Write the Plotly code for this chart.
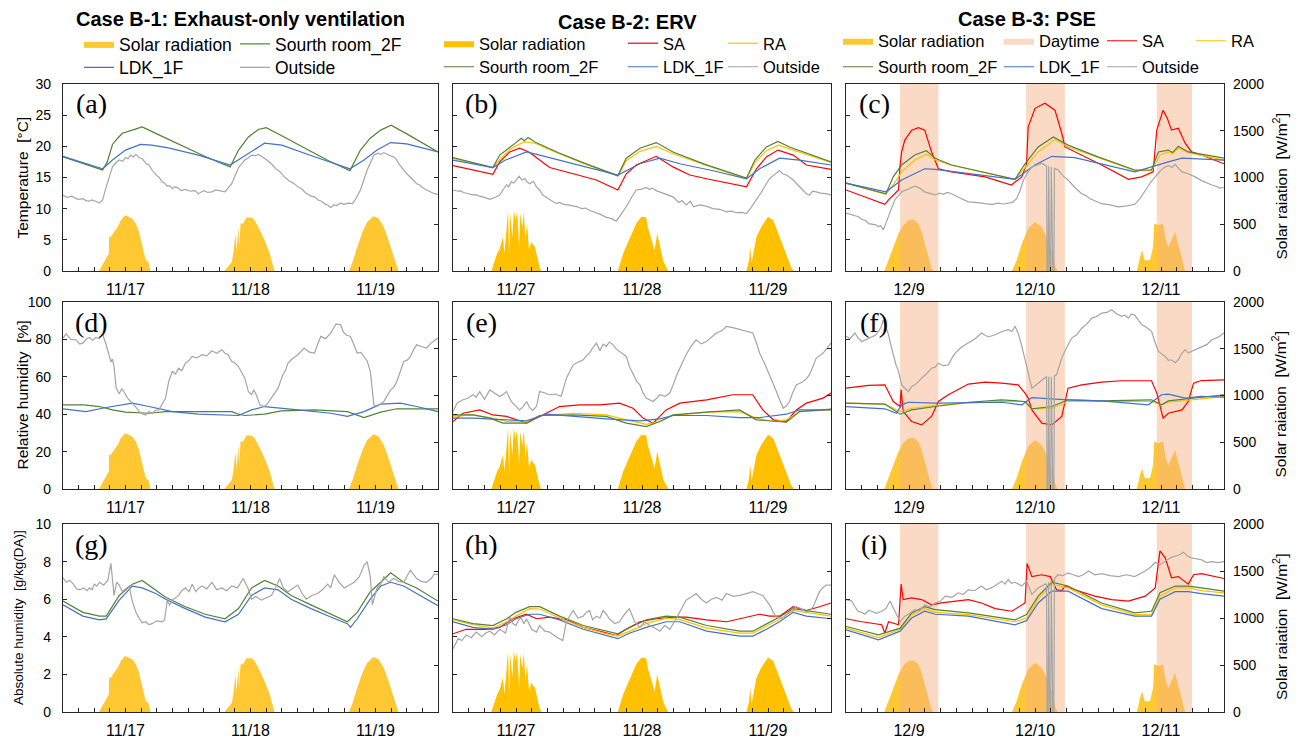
import plotly.graph_objects as go

# ======================= DATA =======================
# time axis: hours from 0:00 of the first day shown in each case
DATES_B1 = ['11/17', '11/18', '11/19']
DATES_B2 = ['11/27', '11/28', '11/29']
DATES_B3 = ['12/9', '12/10', '12/11']
DATE_NOON_HOURS = [12, 36, 60]

# solar radiation [W/m2] (time h, value)
SOLAR_B1 = [(6.9, 0), (7.2, 30), (7.6, 70), (8.3, 150), (8.8, 186), (8.85, 365), (9.2, 365), (9.8, 418),
            (10.5, 471), (11.1, 543), (11.9, 597), (12.7, 578), (13.3, 560), (14.0, 507), (14.6, 418),
            (15.2, 275), (15.6, 186), (15.9, 114), (16.4, 96), (16.6, 43), (16.8, 0),
            (31.0, 0), (31.7, 43), (32.4, 96), (32.7, 186), (33.1, 400), (33.3, 221), (33.7, 471),
            (33.8, 257), (34.1, 507), (34.6, 507), (35.2, 571), (36.2, 571), (36.8, 543), (37.8, 436),
            (38.7, 329), (39.7, 186), (40.3, 61), (40.6, 0),
            (54.9, 0), (55.6, 96), (56.5, 257), (57.5, 418), (58.4, 525), (59.6, 586), (60.6, 561),
            (61.6, 471), (62.5, 329), (63.5, 150), (64.0, 61), (64.4, 0)]
SOLAR_B2 = [(7.3, 0), (7.9, 96), (8.4, 186), (8.9, 239), (9.5, 364), (9.8, 186), (10.2, 471), (10.5, 650),
            (10.7, 150), (10.9, 614), (11.3, 364), (11.6, 650), (11.9, 543), (12.2, 632), (12.6, 257),
            (12.8, 614), (13.2, 471), (13.5, 632), (13.8, 329), (14.1, 507), (14.5, 221), (14.9, 311),
            (15.6, 257), (16.0, 150), (16.5, 43), (16.8, 0),
            (31.4, 0), (32.4, 186), (33.7, 364), (34.9, 507), (35.9, 579), (36.8, 571), (37.1, 471),
            (38.0, 293), (38.4, 221), (38.9, 400), (39.4, 257), (40.1, 96), (41.0, 0),
            (55.9, 0), (56.4, 114), (56.6, 257), (56.9, 96), (57.8, 364), (58.7, 471), (60.0, 579),
            (61.0, 543), (62.2, 364), (63.5, 186), (64.4, 43), (64.9, 0)]
SOLAR_B3 = [(7.3, 0), (8.1, 114), (9.0, 257), (10.0, 400), (10.9, 489), (11.9, 543), (12.8, 550),
            (13.8, 507), (14.5, 400), (15.2, 257), (15.8, 114), (16.3, 25), (16.6, 0),
            (31.6, 0), (32.5, 114), (33.5, 293), (34.7, 454), (36.0, 525), (37.3, 471), (38.5, 329),
            (39.2, 221), (39.8, 61), (40.3, 0),
            (55.4, 0), (56.0, 150), (56.4, 221), (56.9, 114), (57.9, 114), (58.5, 257), (58.7, 507),
            (59.5, 489), (60.4, 507), (60.9, 329), (61.4, 257), (62.0, 329), (62.7, 418), (63.2, 293),
            (63.6, 221), (64.3, 61), (64.6, 0)]
DAYTIME_B3 = [(10.3, 17.6), (34.3, 41.7), (59.2, 65.9)]

# ---- Case B-1 ----
B1_T_SOUTH = [(0, 18.3), (7.6, 16.2), (8.5, 17.5), (9.5, 20.3), (10.5, 21.3), (11.4, 22.1), (13.3, 22.6),
              (15.2, 23.1), (18, 22.0), (21, 20.8), (24, 19.6), (27, 18.5), (30, 17.4), (32.1, 16.7),
              (33.7, 19.4), (35.6, 21.5), (37.5, 22.7), (39, 23.0), (42, 21.7), (45, 20.3), (48, 19.0),
              (51, 17.7), (55.1, 16.1), (57.1, 19.4), (59, 21.3), (61, 22.6), (63, 23.4), (66, 22.0),
              (69, 20.5), (72, 19.1)]
B1_T_LDK = [(0, 18.4), (7.6, 16.4), (9.5, 17.8), (12, 19.4), (14.9, 20.3), (17, 20.2), (20, 19.8), (26, 18.6),
            (32.1, 17.0), (35, 18.6), (38.7, 20.5), (42, 20.2), (48, 18.4), (55.1, 16.4), (57.8, 17.8),
            (60.3, 19.4), (62.9, 20.6), (66, 20.4), (72, 19.1)]
B1_T_OUT = [(0, 12.2), (0.5, 11.9), (1, 11.8), (1.5, 12.0), (2, 11.9), (2.5, 11.6), (3, 11.5), (3.8, 11.6),
            (4.4, 11.3), (5, 11.2), (5.5, 11.4), (6, 11.3), (6.5, 11.1), (7, 10.9), (7.6, 11.4),
            (8.3, 13.5), (9.5, 16.7), (10.2, 17.4), (10.8, 17.8), (11.4, 17.6), (12, 18.2), (12.5, 18.0),
            (13, 18.6), (13.5, 18.3), (14, 18.7), (14.6, 18.2), (15.2, 18.0), (16, 17.2), (16.5, 17.0),
            (17.1, 16.2), (18, 15.3), (18.5, 15.0), (19, 14.3), (19.5, 14.1), (20, 13.6), (20.5, 13.7),
            (21, 13.2), (21.5, 13.5), (22, 13.4), (22.7, 12.9), (23.5, 13.1), (24.5, 12.8), (25.3, 12.9),
            (26, 12.4), (27, 12.9), (27.8, 12.6), (28.6, 12.7), (29.3, 13.0), (30, 12.9), (31.1, 12.7),
            (32.4, 14.0), (33.7, 16.6), (34.3, 17.2), (34.9, 17.8), (35.5, 18.1), (36.2, 18.6), (37, 18.5),
            (37.5, 18.7), (38.1, 18.4), (39, 17.9), (40, 17.2), (41, 16.3), (41.7, 15.9), (42.5, 15.1),
            (43.5, 14.4), (44.2, 14.1), (45.1, 13.5), (45.8, 13.2), (46.5, 12.6), (47.6, 12.0), (48.3, 11.9),
            (49, 11.4), (49.6, 11.2), (50.2, 10.8), (50.8, 10.6), (51.4, 10.2), (52, 10.6), (52.5, 10.5),
            (53.3, 10.9), (54, 10.7), (54.8, 10.9), (55.6, 10.8), (56.3, 11.7), (57.1, 13.0), (58.4, 16.2),
            (59.1, 17.6), (59.7, 18.6), (60.5, 18.9), (61, 18.7), (61.6, 19.0), (62.5, 18.6), (63.5, 18.3),
            (64, 17.9), (64.5, 17.2), (65.2, 16.4), (66, 15.6), (67, 14.8), (67.9, 14.0), (68.5, 13.8),
            (69, 13.4), (69.8, 13.0), (70.6, 12.7), (71.3, 12.4), (72, 12.3)]
B1_RH_SOUTH = [(0, 45), (4, 45), (7, 44.1), (9.5, 42.3), (12, 41.1), (16.5, 40.5), (19.7, 41.4), (23.5, 41.4),
               (32.4, 41.4), (33.7, 40), (34.9, 39.3), (38.7, 40), (41.9, 41.8), (48.3, 42.3), (54.6, 41.4),
               (57.8, 38.2), (61, 41.1), (64.1, 42.9), (72, 42.9)]
B1_RH_LDK = [(0, 42.9), (4.4, 41.4), (8.3, 43.6), (13.3, 45.9), (16.5, 44.1), (21, 41.4), (26, 40), (33.7, 39.3),
             (36.2, 42.3), (38.7, 44.1), (45.1, 42.3), (51.4, 40.5), (54.6, 38.8), (57.8, 41.4), (61, 45.4),
             (64.8, 45.9), (67.9, 44.1), (72, 41.4)]
B1_RH_OUT = [(0, 80.7), (0.6, 82.9), (1.5, 80), (2.5, 79.8), (3.2, 77.5), (3.8, 78), (4.5, 80.2), (5.1, 81),
             (5.7, 79.5), (6.3, 81), (7, 80.4), (7.6, 82.9), (8.3, 77), (9.2, 68), (9.5, 69.5), (9.8, 65.5),
             (10.2, 54), (10.8, 51), (11.3, 53.5), (11.7, 52), (12.4, 48.6), (13.3, 46), (14, 43.8),
             (14.6, 41.4), (15.2, 40.2), (15.9, 39.6), (16.5, 41.5), (17.1, 40.5), (17.8, 42.2), (18.4, 42.3),
             (19.1, 45.5), (19.7, 48.6), (20.3, 57.5), (21, 62.9), (21.6, 61.5), (22.2, 64.6), (22.8, 63.2),
             (23.5, 67.3), (24.2, 68.8), (24.8, 70.9), (25.7, 70.1), (26.7, 71.8), (27.6, 71.2), (28.6, 73.9),
             (29.5, 72.6), (30.5, 74.5), (31.1, 72.6), (31.7, 71.8), (32.4, 68.2), (33.1, 67.2), (33.7, 65.5),
             (34.3, 62.4), (34.9, 59.3), (35.6, 52.1), (36.2, 50.4), (36.6, 53), (37.1, 50.4), (37.8, 45),
             (38.7, 44.1), (39.4, 46.2), (40, 48.6), (40.7, 51), (41.3, 53.9), (42.2, 61.1), (42.7, 63.2),
             (43.2, 67.3), (44.1, 69.8), (45.1, 71.8), (45.7, 73.6), (46.3, 75.4), (47.3, 73.2), (48.3, 72.7),
             (48.9, 77.5), (49.5, 81.6), (50.4, 80.4), (51.4, 83.4), (52.4, 88.2), (53.3, 87.9), (53.8, 84.1),
             (54.3, 82.5), (55.2, 81.6), (55.9, 77), (56.5, 72.7), (57.2, 73.1), (57.8, 70.9), (58.4, 68.5),
             (59, 62.9), (59.7, 45), (60.3, 44.1), (61, 45.5), (61.6, 46.8), (62.3, 50.2), (62.9, 53),
             (63.5, 54.5), (64.1, 57.5), (64.8, 63.1), (65.4, 68.2), (66.1, 68.9), (66.7, 70.9), (67.3, 74.4),
             (67.9, 77.1), (68.8, 76.2), (69.8, 75.4), (70.6, 77.9), (72, 80.7)]
B1_AH_SOUTH = [(0, 5.9), (3.8, 5.3), (7, 5.1), (8.3, 5.1), (10.8, 6.2), (13.3, 6.8), (15.2, 7.0), (17.8, 6.5),
               (19.7, 6.1), (23.5, 5.6), (27.3, 5.2), (31.1, 4.96), (33.7, 5.5), (36.2, 6.6), (38.7, 7.0),
               (41.3, 6.7), (43.8, 6.2), (47.6, 5.7), (51.4, 5.2), (54.6, 4.8), (56.5, 5.3), (59, 6.4),
               (61, 6.9), (62.9, 7.4), (65.4, 6.9), (67.9, 6.6), (72, 5.9)]
B1_AH_LDK = [(0, 5.7), (3.8, 5.1), (7, 4.9), (8.3, 4.95), (10.8, 5.95), (13.3, 6.7), (15.2, 6.6), (17.8, 6.3),
             (19.7, 6.0), (23.5, 5.5), (27.3, 5.05), (31.1, 4.8), (33.7, 5.2), (36.2, 6.2), (38.7, 6.6),
             (41.3, 6.5), (43.8, 6.0), (47.6, 5.5), (51.4, 5.05), (54.6, 4.7), (55.2, 4.5), (56.5, 4.96),
             (59, 6.0), (61, 6.7), (62.9, 6.9), (65.4, 6.7), (67.9, 6.3), (72, 5.65)]
B1_AH_OUT = [(0, 7.14), (0.6, 6.9), (1.3, 7.0), (2, 6.8), (2.6, 6.55), (3.2, 6.5), (4, 6.6), (4.6, 6.45),
             (5.1, 6.6), (5.6, 6.5), (6, 6.8), (6.5, 6.7), (7, 6.9), (7.8, 6.75), (8.6, 7.0), (9.2, 7.9),
             (9.8, 6.2), (10.3, 6.9), (10.8, 6.75), (11.4, 6.4), (12, 6.55), (12.7, 6.7), (13.3, 5.9),
             (14, 5.3), (14.6, 5.0), (15.2, 4.75), (15.9, 4.8), (16.5, 4.65), (17.1, 4.7), (18, 4.85),
             (19, 4.8), (19.5, 4.9), (20, 5.9), (20.5, 5.7), (21, 5.95), (21.6, 6.1), (22.2, 6.2), (22.8, 6.45),
             (23.5, 6.6), (24.2, 6.4), (24.8, 6.8), (25.5, 6.4), (26.1, 6.6), (26.7, 6.7), (27.6, 6.55),
             (28.6, 6.9), (29.5, 6.5), (30.5, 6.6), (31.4, 6.45), (32.4, 6.7), (33.5, 6.6), (34.6, 7.1),
             (35.5, 6.6), (36.2, 6.0), (37, 6.15), (38.1, 5.95), (39, 6.05), (40, 6.2), (40.8, 6.6), (41.6, 7.1),
             (42.3, 6.6), (43.2, 6.4), (44.2, 6.6), (45.1, 6.75), (45.9, 6.3), (46.7, 6.0), (47.8, 6.2),
             (48.9, 6.3), (49.8, 6.5), (50.8, 6.8), (51.4, 6.6), (52.1, 7.3), (53, 6.9), (54, 6.6), (55, 6.75),
             (55.9, 6.9), (56.9, 7.2), (57.8, 7.8), (58.4, 8.0), (59, 7.2), (59.4, 5.7), (60.3, 6.6),
             (61, 6.8), (61.6, 7.2), (62.5, 6.9), (63.5, 7.1), (64.5, 6.95), (65.4, 6.9), (66.7, 7.55),
             (67.3, 7.3), (67.9, 7.1), (68.8, 6.95), (69.8, 6.9), (70.7, 7.1), (71.3, 7.35), (72, 7.3)]

# ---- Case B-2 ----
B2_T_SA = [(0, 16.9), (7.6, 15.5), (8.9, 17.5), (10.8, 19.1), (12.7, 19.7), (14.6, 19.0), (16.5, 17.8),
           (18.4, 16.6), (22.9, 15.6), (27.3, 14.6), (31.4, 13.0), (33, 15.6), (34.9, 17.0), (38.7, 18.4),
           (41.9, 16.7), (45.1, 15.4), (48.3, 14.8), (55.9, 13.5), (57.8, 16.4), (59.7, 18.3), (61.9, 19.4),
           (64.8, 18.6), (67.3, 17.0), (72, 16.3)]
B2_T_RA = [(0, 18.05), (7.6, 16.55), (9, 18.0), (11, 19.6), (13.5, 20.7), (15.6, 20.5), (20, 18.9), (25, 17.2),
           (31.4, 15.2), (33, 17.7), (35.6, 19.2), (38.7, 20.0), (41.9, 18.8), (48, 17.0), (55.9, 14.8),
           (57.5, 17.4), (59.7, 19.3), (62, 20.2), (64.1, 19.6), (72, 17.4)]
B2_T_SOUTH = [(0, 18.2), (7.6, 16.6), (8.9, 18.6), (10.2, 19.4), (11.4, 20.2), (13, 21.3), (13.6, 20.9),
              (14.3, 21.4), (15.6, 20.7), (20, 19.0), (25, 17.3), (31.4, 15.3), (33, 18.1), (35.6, 19.7),
              (38.7, 20.6), (41.9, 19.1), (48, 17.1), (55.9, 14.9), (57.5, 17.8), (59.7, 19.9), (61.9, 20.8),
              (64.1, 19.9), (72, 17.5)]
B2_T_LDK = [(0, 17.8), (7.6, 16.6), (10, 17.8), (14, 19.1), (16.5, 18.6), (24, 17.0), (31.4, 15.4), (35.6, 17.2),
            (39.4, 18.1), (43.2, 17.2), (50, 16.0), (55.9, 14.8), (58.4, 16.4), (62.2, 18.1), (66, 17.8),
            (72, 17.0)]
B2_T_OUT = [(0, 13.0), (0.5, 12.9), (1, 12.8), (1.5, 12.85), (2, 12.6), (2.9, 12.4), (3.8, 12.2), (4.4, 12.25),
            (5, 12.0), (6, 11.8), (7, 11.5), (8, 11.8), (8.9, 12.2), (9.5, 13.0), (10.2, 13.8), (10.6, 13.5),
            (11.1, 14.3), (11.6, 14.1), (12, 14.6), (12.6, 15.2), (13.1, 14.6), (13.7, 14.8), (14.1, 14.3),
            (14.6, 14.0), (15.3, 14.4), (15.9, 13.5), (16.5, 13.0), (17.1, 12.2), (17.8, 11.8), (18.5, 11.4),
            (19.1, 11.0), (19.7, 10.8), (20.3, 11.0), (21, 10.7), (21.9, 10.6), (22.9, 10.4), (23.7, 10.3),
            (24.5, 10.0), (25.2, 10.1), (26, 9.75), (26.8, 9.5), (27.5, 9.3), (28.3, 9.0), (29.2, 8.6),
            (30.2, 8.4), (31.1, 8.0), (32, 9.0), (33, 10.3), (34, 11.8), (34.9, 13.0), (35.8, 13.1),
            (36.8, 13.4), (37.4, 13.1), (38, 13.3), (38.7, 12.9), (39.4, 12.7), (40.6, 12.3), (41.9, 11.9),
            (43, 11.0), (43.6, 11.3), (44.4, 10.6), (45.2, 11.2), (45.8, 10.3), (47, 10.6), (48.2, 10.4),
            (49.5, 10.0), (50.8, 9.9), (52.1, 9.5), (53, 9.6), (54, 9.35), (55, 9.4), (55.9, 9.2), (56.8, 10.2),
            (57.8, 11.4), (58.7, 12.6), (59.7, 14.0), (60.3, 14.8), (61, 15.3), (62.2, 16.1), (62.8, 15.6),
            (63.5, 15.4), (64.2, 15.0), (64.8, 14.6), (65.7, 13.8), (66.7, 13.0), (67.3, 12.4), (67.9, 12.2),
            (68.5, 12.8), (69.2, 12.7), (70, 12.5), (71, 12.4), (72, 12.2)]
B2_RH_SA = [(0, 36.1), (1.9, 40.5), (5.1, 42.3), (7.6, 39.6), (10.2, 38.8), (14, 35.2), (16.5, 38.8),
            (20.3, 44.1), (24.1, 45), (27.9, 45), (31.7, 45.9), (34.3, 43.2), (36.2, 37.9), (38.1, 35.2),
            (40.6, 42.3), (43.2, 45.9), (48.3, 47.7), (53.3, 50.4), (57.1, 50.4), (59, 42.3), (61, 37),
            (63.5, 36.1), (65.4, 42.3), (67.3, 45.9), (70.5, 48.6), (72, 51.3)]
B2_RH_RA = [(0, 38.8), (3.8, 39.6), (7.6, 37.9), (10.2, 36.1), (14, 35.7), (16.5, 39.3), (22.9, 40.5),
            (29.2, 39.6), (33, 37), (36.8, 34.6), (39.4, 36.1), (41.9, 39.3), (48.3, 41.1), (54.6, 41.4),
            (57.8, 37.9), (61, 36.1), (63.5, 37), (66, 41.4), (72, 42.3)]
B2_RH_SOUTH = [(0, 39.6), (3.8, 39.6), (7, 37.9), (9.5, 35.2), (14, 35.2), (16.5, 39.3), (22.9, 39.6),
               (29.2, 38.8), (33, 35.2), (36.8, 33.4), (39.4, 36.1), (41.9, 39.6), (48.3, 41.1), (54.6, 42.3),
               (57.8, 37), (63.5, 35.7), (66, 41.4), (72, 42.7)]
B2_RH_LDK = [(0, 37.9), (3.8, 37.9), (10.2, 37), (14, 36.4), (17.8, 40), (22.9, 38.8), (29.2, 37.5), (35.6, 36.4),
             (39.4, 37.5), (41.9, 39.3), (48.3, 39.3), (54.6, 38.2), (58.4, 38.2), (63.5, 40), (66, 42.3),
             (72, 42.3)]
B2_RH_OUT = [(0, 41.4), (0.8, 46), (1.9, 47.7), (2.8, 48.5), (3.8, 50.4), (4.4, 49.1), (5.1, 52.1), (6, 48),
             (7, 53), (7.9, 51.2), (8.9, 49.5), (9.6, 50.8), (10.2, 52.1), (11.1, 46.8), (11.9, 44.6),
             (12.7, 42.3), (13.4, 44.2), (14, 46.8), (14.6, 43.5), (15.2, 42), (15.9, 44.1), (16.5, 52.1),
             (17.4, 51.5), (18.4, 50.4), (19.5, 50.8), (20.6, 49.5), (21.6, 59.3), (22.2, 62.8), (22.9, 66.4),
             (23.8, 67.8), (24.8, 69.1), (25.4, 71.2), (26, 72.7), (26.6, 75.3), (27.3, 78), (28, 74),
             (28.6, 77.5), (29.2, 76.3), (29.8, 78.6), (30.5, 77.1), (31.1, 74.9), (31.7, 73.6), (32.4, 72.3),
             (33, 70.9), (33.6, 65.5), (34.3, 61.1), (35, 57.6), (35.6, 55.7), (36.2, 51.4), (36.8, 48.6),
             (37.5, 47.6), (38.1, 46.8), (38.8, 48.5), (39.4, 50.4), (40.4, 49.5), (41.3, 51.3), (41.9, 55.4),
             (42.5, 60.2), (43.4, 65.8), (44.4, 71.8), (45.3, 76.1), (46.3, 79.8), (47.3, 77.6), (48.3, 78.9),
             (49.2, 81.2), (50.2, 83.4), (51.2, 84.6), (52.1, 87), (53.3, 86.3), (54.6, 85.2), (55.8, 84.5),
             (57.1, 83.4), (57.8, 78.2), (58.4, 72.7), (59.4, 66.9), (60.3, 61.1), (61, 56.6), (61.6, 52.1),
             (62.3, 47.2), (62.9, 43.2), (63.5, 44.5), (64.1, 46.8), (64.7, 51.5), (65.4, 55.7), (66.7, 57.5),
             (67.3, 58.9), (67.9, 61.1), (68.6, 65.8), (69.2, 70), (69.8, 71.2), (70.5, 72.7), (71.3, 75.5),
             (72, 78)]
B2_AH_SA = [(0, 4.16), (2.5, 4.4), (6.3, 4.4), (8.9, 4.5), (11.4, 4.96), (14, 5.2), (15.9, 4.96), (18.4, 5.05),
            (21.6, 4.9), (24.8, 4.5), (27.9, 4.3), (31.1, 4.07), (33, 4.4), (35.6, 4.8), (38.7, 4.96),
            (41.9, 5.05), (44.4, 5.05), (48.3, 4.9), (52.1, 4.8), (55.9, 5.05), (58.4, 5.2), (60.3, 5.1),
            (62.2, 5.1), (64.8, 5.6), (67.3, 5.4), (69.8, 5.6), (72, 5.8)]
B2_AH_RA = [(0, 4.9), (3.8, 4.64), (7.6, 4.46), (10.2, 4.8), (12, 5.1), (14.6, 5.5), (16.5, 5.48), (20.3, 5.0),
            (24.8, 4.5), (29.2, 4.16), (31.4, 4.04), (33.7, 4.3), (36.8, 4.7), (40.6, 5.0), (43.2, 4.93),
            (48.3, 4.46), (54.6, 4.2), (57.1, 4.2), (59.7, 4.57), (62.2, 4.93), (64.8, 5.4), (67.3, 5.3),
            (72, 5.1)]
B2_AH_SOUTH = [(0, 4.96), (3.8, 4.7), (7.6, 4.6), (10.2, 4.96), (12, 5.3), (14.6, 5.6), (16.5, 5.6), (20.3, 5.1),
               (24.8, 4.6), (29.2, 4.3), (31.4, 4.16), (33.7, 4.5), (36.8, 4.9), (40.6, 5.1), (43.2, 5.05),
               (48.3, 4.6), (54.6, 4.3), (57.1, 4.3), (59.7, 4.7), (62.2, 5.05), (64.8, 5.5), (67.3, 5.4),
               (72, 5.2)]
B2_AH_LDK = [(0, 4.8), (3.8, 4.5), (7.6, 4.4), (10.2, 4.64), (12, 4.96), (14.6, 5.2), (16.5, 5.2), (20.3, 4.9),
             (24.8, 4.4), (29.2, 4.07), (31.4, 3.9), (33.7, 4.2), (36.8, 4.5), (40.6, 4.8), (43.2, 4.8),
             (48.3, 4.3), (54.6, 4.04), (57.1, 4.04), (59.7, 4.4), (62.2, 4.8), (64.8, 5.3), (67.3, 5.1),
             (72, 4.96)]
B2_AH_OUT = [(0, 3.36), (1, 3.9), (1.7, 3.8), (2.5, 4.1), (3.5, 3.95), (4.4, 4.25), (5.5, 4.0), (6.2, 4.2),
             (7, 4.3), (7.9, 4.1), (8.9, 4.4), (10, 4.2), (10.8, 5.05), (11.4, 4.7), (12, 4.6), (12.5, 4.9),
             (13, 5.0), (13.5, 4.7), (14, 4.96), (15, 4.4), (15.9, 4.25), (16.5, 4.6), (17.5, 4.3), (18.4, 4.25),
             (19.6, 4.0), (20.9, 3.8), (21.6, 4.8), (22.2, 5.1), (22.9, 5.4), (23.8, 5.0), (24.8, 5.1), (25.4, 5.3),
             (26, 5.4), (26.6, 4.9), (27.3, 5.1), (28, 5.0), (28.6, 5.4), (29.2, 5.2), (29.8, 4.96), (30.8, 4.7),
             (31.7, 4.8), (32.7, 5.2), (33.6, 5.5), (34.6, 4.8), (35.6, 4.5), (36.5, 4.8), (37.5, 4.6),
             (38.5, 4.45), (39.4, 4.3), (40.3, 4.6), (41.3, 4.4), (42.5, 4.96), (43.4, 5.4), (44.4, 5.95),
             (45.3, 6.1), (46.3, 6.3), (47.3, 6.0), (48.3, 5.8), (49.2, 6.0), (50.2, 6.1), (51.2, 5.95),
             (52.1, 6.3), (53.4, 6.15), (54.6, 6.2), (55.9, 6.3), (57.1, 6.4), (58, 6.3), (59, 6.2), (60.3, 5.7),
             (61, 5.3), (61.6, 5.05), (62.9, 4.96), (63.5, 5.2), (64.1, 5.3), (64.8, 5.4), (65.4, 5.6),
             (66.3, 5.5), (67.3, 5.3), (68, 5.4), (68.6, 5.6), (69.2, 6.0), (69.8, 6.4), (70.4, 6.6),
             (71.1, 6.75), (72, 6.75)]

# ---- Case B-3 ----
B3_T_SA = [(0, 13.0), (7.4, 10.7), (8.1, 11.4), (10, 13.0), (10.3, 17.0), (10.6, 19.1), (11.2, 21.0),
           (12.5, 22.6), (13.8, 23.0), (15, 22.6), (16.3, 19.1), (17.6, 16.4), (20.1, 15.9), (26.5, 15.1),
           (31.5, 13.8), (33.5, 15.1), (34.4, 17.2), (34.7, 23.1), (36, 26.1), (37.9, 26.9), (39.8, 25.8),
           (41.1, 22.1), (41.7, 19.9), (43.6, 19.1), (48.7, 17.0), (53.8, 14.7), (56.3, 15.1), (58.5, 15.9),
           (59.2, 22.6), (60.4, 25.8), (61.2, 24.5), (62, 22.6), (63.3, 22.9), (64.6, 20.5), (65.8, 19.1),
           (67.7, 18.6), (72, 17.2)]
B3_T_RA = [(0, 14.1), (7.6, 12.3), (9, 13.8), (10.6, 15.9), (13.1, 17.8), (15.3, 18.75), (17, 17.8), (20, 17.0),
           (32.2, 14.7), (34.1, 16.6), (36.6, 19.1), (39.8, 21.1), (42.3, 19.9), (48, 18.2), (55, 16.1),
           (58.2, 16.1), (59.8, 18.6), (61.4, 19.1), (62.2, 18.8), (63.3, 19.7), (65.2, 19.0), (72, 17.8)]
B3_T_SOUTH = [(0, 14.1), (7.6, 12.4), (9, 15.1), (10.6, 17.0), (13.1, 18.6), (15.3, 19.3), (17, 18.1),
              (20.1, 17.0), (32.2, 14.7), (34.1, 17.2), (36.6, 19.9), (39.5, 21.5), (42.3, 20.2), (48, 18.3),
              (55, 16.2), (58.2, 16.2), (59.5, 19.1), (61.4, 19.4), (62.2, 19.0), (63.3, 20.0), (65.2, 19.1),
              (72, 18.1)]
B3_T_LDK = [(0, 14.1), (7.6, 12.7), (10.6, 14.6), (15, 16.4), (17, 16.3), (32.2, 14.7), (36, 17.0), (39.2, 18.4),
            (43.6, 18.2), (55, 15.9), (61.4, 17.5), (64, 18.1), (72, 17.8)]
B3_T_OUT = [(0, 9.3), (0.8, 9.1), (1.7, 8.9), (2.4, 8.7), (3, 8.3), (3.7, 8.1), (4.3, 7.6), (5.2, 7.5), (5.7, 7.4),
            (6.2, 7.1), (6.6, 7.3), (7.1, 6.6), (8.1, 8.7), (9.3, 11.4), (10.6, 12.7), (11.3, 12.9), (12, 13.2),
            (13.1, 13.6), (14, 13.3), (15, 12.7), (16, 12.5), (17, 12.2), (17.8, 12.5), (18.5, 12.3), (19.3, 12.6),
            (20.1, 12.4), (21.5, 11.8), (22.4, 11.5), (23.3, 11.1), (24.6, 11.0), (25.6, 10.85), (26.5, 10.8),
            (27.8, 10.7), (29, 10.9), (30, 10.75), (30.9, 10.9), (31.7, 11.0), (32.5, 11.6), (33.2, 13.0),
            (33.8, 14.6), (34.6, 15.8), (35.4, 16.7), (36.3, 17.0), (37.3, 17.3), (38.2, 16.8), (38.3, 0),
            (38.5, 0), (38.6, 16.8), (38.8, 0), (39.0, 0), (39.1, 16.7), (39.4, 0), (39.6, 0), (39.7, 16.5),
            (40.4, 16.2), (41.3, 15.3), (42.3, 14.6), (43.6, 13.4), (44.9, 12.4), (45.7, 12.1), (46.5, 11.6),
            (47.6, 11.2), (48.7, 10.8), (50.3, 10.6), (51.9, 10.3), (53.5, 10.45), (55, 10.7), (56, 11.6),
            (57, 13.0), (58, 14.2), (58.9, 15.1), (59.9, 16.1), (60.8, 16.7), (61.5, 16.9), (62.1, 16.6),
            (62.7, 17.1), (63.3, 16.5), (64, 15.9), (65.2, 15.6), (66.5, 15.1), (67.7, 14.5), (68.9, 14.0),
            (69.7, 13.8), (70.5, 13.6), (71.2, 13.3), (72, 13.4)]
B3_RH_SA = [(0, 53.9), (4.3, 55.4), (7.4, 55.7), (9, 46.8), (10.3, 44.1), (10.5, 53), (10.9, 41.4), (12.5, 36.1),
            (14.4, 34.3), (16.3, 38.8), (17.6, 46.8), (19.5, 50.4), (23.3, 56.1), (26.5, 57.1), (29.7, 56.6),
            (32.8, 55.7), (34.1, 51.3), (34.7, 48.6), (35.4, 42.3), (37.3, 35.2), (39.2, 34.3), (41.1, 38.8),
            (42.3, 53.9), (44.9, 55.7), (48.7, 57.1), (52.5, 57.9), (58.2, 57.9), (59.2, 51.3), (60.4, 37.9),
            (61.4, 40.5), (64, 42.3), (65.2, 46.8), (66.2, 56.6), (67.7, 58), (72, 58.4)]
B3_RH_RA = [(0, 45.9), (7.4, 45.4), (10.3, 41.4), (12.5, 43.2), (17, 44.6), (23.3, 46.1), (29.7, 46.8),
            (34.1, 46.8), (35.4, 42.9), (39.2, 43.2), (42.3, 46.8), (58.2, 46.8), (60.1, 45), (61.4, 46.4),
            (67.7, 48.2), (72, 49.5)]
B3_RH_SOUTH = [(0, 45.9), (7.4, 45.4), (10.3, 40), (12.5, 42.3), (17, 44.1), (23.3, 46.4), (29.7, 47.7),
               (34.1, 46.8), (35.4, 42.9), (39.2, 44.1), (42.3, 47.7), (48.7, 47.1), (58.2, 47.7), (60.1, 45),
               (61.4, 47.1), (67.7, 48.9), (72, 50.4)]
B3_RH_LDK = [(0, 44.1), (7.4, 42.9), (9.6, 40.5), (10.6, 45), (11.9, 46.4), (17, 45.9), (29.7, 46.4), (33.5, 45),
             (35.4, 48.9), (42.3, 47.7), (48.7, 47.1), (57.6, 45), (60.1, 50.4), (61.4, 50.7), (64.6, 48.6),
             (67.7, 49.5), (72, 49.1)]
B3_RH_OUT = [(0, 81.6), (0.8, 80.5), (1.7, 83.4), (2.3, 80.8), (3, 78.9), (4, 80.3), (4.9, 81.6), (5.6, 82.2),
             (6.2, 84.3), (6.7, 86.8), (7.1, 90.5), (7.6, 86.5), (8.1, 82.5), (8.5, 77.5), (9, 71.8), (9.5, 66.6),
             (10, 62.9), (10.6, 55.7), (11.2, 53.9), (11.9, 52.1), (12.5, 54.8), (13.1, 55.7), (13.8, 57.4),
             (14.4, 59.3), (15.3, 61.5), (16.3, 64.6), (17, 65.2), (17.6, 67.3), (18.6, 65.8), (19.5, 66.4),
             (20.2, 70.1), (20.8, 72.7), (22, 75.9), (23.3, 78), (24.6, 80.4), (25.8, 83.4), (27.1, 81.3),
             (28.4, 82.5), (29.6, 84.1), (30.9, 85.2), (31.6, 84.2), (32.2, 87), (32.9, 82.5), (33.5, 76.3),
             (34.4, 66.4), (35.4, 53.9), (36, 55.2), (36.6, 56.6), (37.4, 58.6), (38.2, 60.2), (38.3, 0),
             (38.5, 0), (38.6, 60), (38.8, 0), (39.0, 0), (39.1, 60), (39.4, 0), (39.6, 0), (39.7, 60.5),
             (40.1, 61.1), (40.6, 65.6), (41.1, 70), (42, 75.5), (43, 80.7), (44, 82.6), (44.9, 86), (45.9, 88.3),
             (46.8, 91.4), (47.7, 92.2), (48.7, 94.1), (49.7, 94.4), (50.6, 95.9), (51.6, 93.6), (52.5, 92.3),
             (53.1, 92.9), (53.8, 91.4), (54.4, 93.6), (55, 92.9), (55.7, 90.3), (56.3, 87.9), (57.2, 86.5),
             (58.2, 84.3), (58.9, 78.2), (59.5, 73.6), (60.1, 72.4), (60.8, 70.9), (61.4, 68.8), (62, 69.1),
             (62.7, 67.5), (63.3, 69.1), (63.9, 72.3), (64.6, 74.5), (65.2, 72.8), (65.8, 73.6), (66.8, 74.8),
             (67.7, 76.3), (68.7, 77.2), (69.7, 79.8), (70.9, 81.2), (72, 83.4)]
B3_AH_SA = [(0, 4.96), (3, 4.8), (6.8, 4.64), (7.4, 4.2), (8.1, 4.8), (10, 4.64), (10.5, 6.8), (10.9, 5.98),
            (12.5, 6.07), (14.4, 5.98), (16.3, 5.7), (18.2, 5.8), (23.3, 5.98), (25.8, 5.8), (28.4, 5.5),
            (31.6, 5.36), (34.1, 5.8), (34.5, 7.9), (35.4, 7.2), (37.3, 7.3), (38.9, 7.2), (40.1, 6.5),
            (41.1, 6.46), (41.7, 6.7), (43.6, 6.5), (47.4, 6.16), (50.6, 5.98), (53.8, 5.9), (57, 6.16),
            (58.9, 6.6), (59.8, 8.57), (60.8, 8.2), (62, 7.14), (63.3, 7.2), (65.2, 6.8), (66.2, 7.3),
            (67.7, 7.36), (72, 7.1)]
B3_AH_RA = [(0, 4.46), (6.2, 3.96), (10.3, 4.4), (12.5, 5.18), (15, 5.5), (17, 5.3), (23.3, 5.18), (32.2, 4.8),
            (34.4, 5.0), (36.6, 6.0), (39.2, 6.8), (42.3, 6.6), (48.7, 5.7), (55, 5.18), (58.2, 5.2),
            (59.8, 6.16), (62.7, 6.6), (65.2, 6.6), (67.7, 6.46), (72, 6.34)]
B3_AH_SOUTH = [(0, 4.55), (6.2, 4.1), (10.3, 4.46), (12.5, 5.27), (15, 5.6), (17, 5.45), (23.3, 5.27),
               (32.2, 4.9), (34.4, 5.18), (36.6, 6.16), (39.2, 6.9), (42.3, 6.7), (48.7, 5.8), (55, 5.27),
               (58.2, 5.36), (59.8, 6.34), (62.7, 6.7), (65.2, 6.7), (67.7, 6.6), (72, 6.43)]
B3_AH_LDK = [(0, 4.37), (6.2, 3.84), (10.3, 4.3), (12.5, 5.0), (15, 5.36), (17, 5.2), (23.3, 5.1), (32.2, 4.64),
             (34.4, 4.86), (36.6, 5.8), (39.2, 6.43), (42.3, 6.43), (48.7, 5.5), (55, 5.1), (58.2, 5.1),
             (59.8, 6.0), (62.7, 6.4), (65.2, 6.4), (67.7, 6.3), (72, 6.16)]
B3_AH_OUT = [(0, 5.98), (1.1, 5.9), (1.7, 5.6), (2.3, 5.36), (3, 5.3), (3.6, 5.2), (4.3, 5.4), (4.9, 5.36),
             (5.8, 5.25), (6.8, 5.36), (7.6, 5.5), (8.4, 5.9), (8.9, 5.6), (9.3, 5.36), (10.3, 4.8), (11.2, 5.1),
             (12.2, 5.25), (13.1, 5.45), (14, 5.4), (15, 5.7), (16, 5.6), (17, 5.8), (18, 5.9), (18.9, 6.16),
             (20.2, 6.1), (21.4, 6.34), (22.3, 6.25), (23.3, 6.5), (24.5, 6.45), (25.8, 6.7), (26.7, 6.5),
             (27.7, 6.6), (28.7, 6.8), (29.7, 6.96), (30.3, 6.8), (30.9, 7.05), (31.5, 6.85), (32.2, 6.9),
             (33.5, 6.7), (34.4, 6.96), (35.4, 6.25), (36.6, 6.6), (37.9, 6.8), (38.2, 6.8), (38.3, 0), (38.5, 0),
             (38.6, 6.9), (38.8, 0), (39.0, 0), (39.1, 7.0), (39.4, 0), (39.6, 0), (39.7, 7.1), (40.4, 7.3),
             (41.3, 7.25), (42.3, 7.4), (43.3, 7.3), (44.3, 7.2), (45.2, 7.3), (46.2, 7.5), (47.4, 7.3),
             (48.7, 7.36), (50.3, 7.25), (51.9, 7.2), (53.4, 7.3), (55, 7.2), (56, 7.35), (57, 7.5), (58, 7.7),
             (58.9, 7.95), (59.9, 7.85), (60.8, 8.0), (61.8, 8.2), (62.7, 8.3), (63.5, 8.35), (64.3, 8.5),
             (65, 8.3), (65.8, 8.2), (66.7, 8.15), (67.7, 8.1), (68.7, 7.95), (69.7, 8.0), (70.8, 7.95), (72, 8.0)]

# ======================= STYLE / LAYOUT =======================
W, H = 1298, 738
FONT = 'Liberation Sans, Arial, sans-serif'
SERIF = 'Liberation Serif, Times New Roman, serif'
AX = '#262626'
COLORS = {'SA': '#FF0000', 'RA': '#FFC000', 'Sourth room_2F': '#548235',
          'LDK_1F': '#4472C4', 'Outside': '#A5A5A5'}
SOLAR_COLORS = ['#FFC832', '#FFC000', '#FFC832']
DAYTIME_COLOR = 'rgba(244,177,131,0.48)'

COL_X = [(63, 438), (453, 831), (846, 1224)]
ROW_Y = [(84, 271), (302, 489), (524, 712)]
ROW_RANGES = [(0, 30, 5), (0, 100, 20), (0, 10, 2)]
DATES = [DATES_B1, DATES_B2, DATES_B3]
SOLARS = [SOLAR_B1, SOLAR_B2, SOLAR_B3]

PANELS = {
    (0, 0): [('Sourth room_2F', B1_T_SOUTH), ('LDK_1F', B1_T_LDK), ('Outside', B1_T_OUT)],
    (1, 0): [('Sourth room_2F', B1_RH_SOUTH), ('LDK_1F', B1_RH_LDK), ('Outside', B1_RH_OUT)],
    (2, 0): [('Sourth room_2F', B1_AH_SOUTH), ('LDK_1F', B1_AH_LDK), ('Outside', B1_AH_OUT)],
    (0, 1): [('SA', B2_T_SA), ('RA', B2_T_RA), ('Sourth room_2F', B2_T_SOUTH), ('LDK_1F', B2_T_LDK), ('Outside', B2_T_OUT)],
    (1, 1): [('SA', B2_RH_SA), ('RA', B2_RH_RA), ('Sourth room_2F', B2_RH_SOUTH), ('LDK_1F', B2_RH_LDK), ('Outside', B2_RH_OUT)],
    (2, 1): [('SA', B2_AH_SA), ('RA', B2_AH_RA), ('Sourth room_2F', B2_AH_SOUTH), ('LDK_1F', B2_AH_LDK), ('Outside', B2_AH_OUT)],
    (0, 2): [('SA', B3_T_SA), ('RA', B3_T_RA), ('Sourth room_2F', B3_T_SOUTH), ('LDK_1F', B3_T_LDK), ('Outside', B3_T_OUT)],
    (1, 2): [('SA', B3_RH_SA), ('RA', B3_RH_RA), ('Sourth room_2F', B3_RH_SOUTH), ('LDK_1F', B3_RH_LDK), ('Outside', B3_RH_OUT)],
    (2, 2): [('SA', B3_AH_SA), ('RA', B3_AH_RA), ('Sourth room_2F', B3_AH_SOUTH), ('LDK_1F', B3_AH_LDK), ('Outside', B3_AH_OUT)],
}

# one legend per entry: (column, entry name) -> (text-left px, centre-y px, font size)
LEGEND_ITEMS = {
    (0, 'Solar radiation'): (119, 43.5, 17.5), (0, 'Sourth room_2F'): (275, 43.5, 17.5),
    (0, 'LDK_1F'): (119, 67, 17.5), (0, 'Outside'): (275, 67, 17.5),
    (1, 'Solar radiation'): (479, 43.5, 16.5), (1, 'SA'): (663, 43.5, 16.5), (1, 'RA'): (763, 43.5, 16.5),
    (1, 'Sourth room_2F'): (479, 67, 16.5), (1, 'LDK_1F'): (663, 67, 16.5), (1, 'Outside'): (763, 67, 16.5),
    (2, 'Solar radiation'): (878, 41, 16.5), (2, 'Daytime'): (1039, 41, 16.5), (2, 'SA'): (1142, 41, 16.5),
    (2, 'RA'): (1231, 41, 16.5), (2, 'Sourth room_2F'): (878, 67, 16.5), (2, 'LDK_1F'): (1039, 67, 16.5),
    (2, 'Outside'): (1142, 67, 16.5),
}
LEGEND_KEYS = list(LEGEND_ITEMS.keys())


def legend_id(c, name):
    k = LEGEND_KEYS.index((c, name)) + 1
    return 'legend' if k == 1 else f'legend{k}'


def split(pairs):
    return [p[0] for p in pairs], [p[1] for p in pairs]


def ref(kind, n):
    return kind if n == 1 else f'{kind}{n}'


def lay(kind, n):
    return f'{kind}axis' if n == 1 else f'{kind}axis{n}'


fig = go.Figure()
layout = dict(width=W, height=H, margin=dict(l=0, r=0, t=0, b=0, autoexpand=False), paper_bgcolor='white',
              plot_bgcolor='white', showlegend=True, font=dict(family=FONT, color='black'))

for c in range(3):
    for r in range(3):
        p = r * 3 + c + 1
        xb, yb, yo = ref('x', p), ref('y', 2 * p - 1), ref('y', 2 * p)
        first = (r == 0)
        sx, sy = split(SOLARS[c])
        fig.add_trace(go.Scatter(x=sx, y=sy, mode='lines', fill='tozeroy', name='Solar radiation',
                                 line=dict(width=0, color=SOLAR_COLORS[c]), fillcolor=SOLAR_COLORS[c],
                                 xaxis=xb, yaxis=yb, showlegend=first, legend=legend_id(c, 'Solar radiation'),
                                 hoverinfo='skip'))
        if c == 2:
            bx, by = [], []
            for s, e in DAYTIME_B3:
                bx += [s, s, e, e, s, None]
                by += [0, 2000, 2000, 0, 0, None]
            fig.add_trace(go.Scatter(x=bx, y=by, mode='lines', fill='toself', name='Daytime',
                                     line=dict(width=0, color=DAYTIME_COLOR), fillcolor=DAYTIME_COLOR,
                                     xaxis=xb, yaxis=yb, showlegend=first, legend=legend_id(c, 'Daytime'),
                                     hoverinfo='skip'))
        for name, pairs in PANELS[(r, c)]:
            tx, ty = split(pairs)
            fig.add_trace(go.Scatter(x=tx, y=ty, mode='lines', name=name,
                                     line=dict(width=1.2, color=COLORS[name]),
                                     xaxis=xb, yaxis=yo, showlegend=first, legend=legend_id(c, name)))

        x0, x1 = COL_X[c]
        ytop, ybot = ROW_Y[r]
        lo, hi, step = ROW_RANGES[r]
        layout[lay('x', p)] = dict(
            domain=[x0 / W, x1 / W], anchor=yb, range=[0, 72], tickmode='array', automargin=False,
            tickvals=DATE_NOON_HOURS, ticktext=DATES[c], ticks='inside', ticklen=4, tickcolor=AX,
            minor=dict(ticks='inside', ticklen=4, dtick=3, tick0=0, tickcolor=AX),
            showline=True, linecolor=AX, linewidth=1.3, mirror=True, showgrid=False, zeroline=False,
            tickfont=dict(size=16, color='black', family=FONT), ticklabelstandoff=4)
        layout[lay('y', 2 * p - 1)] = dict(
            domain=[1 - ybot / H, 1 - ytop / H], anchor=xb, side='right', range=[0, 2000], automargin=False,
            tickmode='array', tickvals=[0, 500, 1000, 1500, 2000], ticks='inside', ticklen=4,
            tickcolor=AX, showticklabels=(c == 2), showline=True, linecolor=AX, linewidth=1.3,
            showgrid=False, zeroline=False, tickfont=dict(size=14, color='black', family=FONT),
            ticklabelstandoff=5)
        layout[lay('y', 2 * p)] = dict(
            overlaying=yb, anchor=xb, side='left', range=[lo, hi], tick0=lo, dtick=step, automargin=False,
            ticks='inside', ticklen=4, tickcolor=AX, showticklabels=(c == 0), showline=True,
            linecolor=AX, linewidth=1.3, showgrid=False, zeroline=False,
            tickfont=dict(size=14, color='black', family=FONT), ticklabelstandoff=8)

for (c, name), (tx, cy, fs) in LEGEND_ITEMS.items():
    layout[legend_id(c, name)] = dict(x=(tx - 40) / W, y=1 - (cy - 17.5) / H, xanchor='left', yanchor='top',
                                      orientation='v', bgcolor='rgba(0,0,0,0)', borderwidth=0,
                                      font=dict(size=fs, family=FONT, color='black'), itemwidth=30)

ann = []
TITLES = [('Case B-1: Exhaust-only ventilation', 240, 19), ('Case B-2: ERV', 627, 22),
          ('Case B-3: PSE', 1027, 19)]
for text, x, y in TITLES:
    ann.append(dict(text=f'<b>{text}</b>', x=x / W, y=1 - y / H, xref='paper', yref='paper',
                    showarrow=False, xanchor='center', yanchor='middle',
                    font=dict(size=20, family=FONT, color='black')))
LETTERS = ['(a)', '(b)', '(c)', '(d)', '(e)', '(f)', '(g)', '(h)', '(i)']
for r in range(3):
    for c in range(3):
        ann.append(dict(text=LETTERS[r * 3 + c], x=(COL_X[c][0] + 28) / W, y=1 - (ROW_Y[r][0] + 20) / H,
                        xref='paper', yref='paper', showarrow=False, xanchor='center', yanchor='middle',
                        font=dict(size=28, family=SERIF, color='black')))
YTITLES = [('Temperature  [°C]', 22, 15.5), ('Relative humidity  [%]', 22, 15.5),
           ('Absolute humidity  [g/kg(DA)]', 18, 13.5)]
for r, (text, x, fs) in enumerate(YTITLES):
    yc = (ROW_Y[r][0] + ROW_Y[r][1]) / 2
    ann.append(dict(text=text, x=x / W, y=1 - yc / H, xref='paper', yref='paper', showarrow=False,
                    textangle=-90, xanchor='center', yanchor='middle',
                    font=dict(size=fs, family=FONT, color='black')))
    ann.append(dict(text='Solar raiation  [W/m<sup>2</sup>]', x=1280 / W, y=1 - (yc + 9) / H,
                    xref='paper', yref='paper', showarrow=False, textangle=-90,
                    xanchor='center', yanchor='middle', font=dict(size=15.5, family=FONT, color='black')))
layout['annotations'] = ann

fig.update_layout(**layout)
fig.write_html('out.html')
